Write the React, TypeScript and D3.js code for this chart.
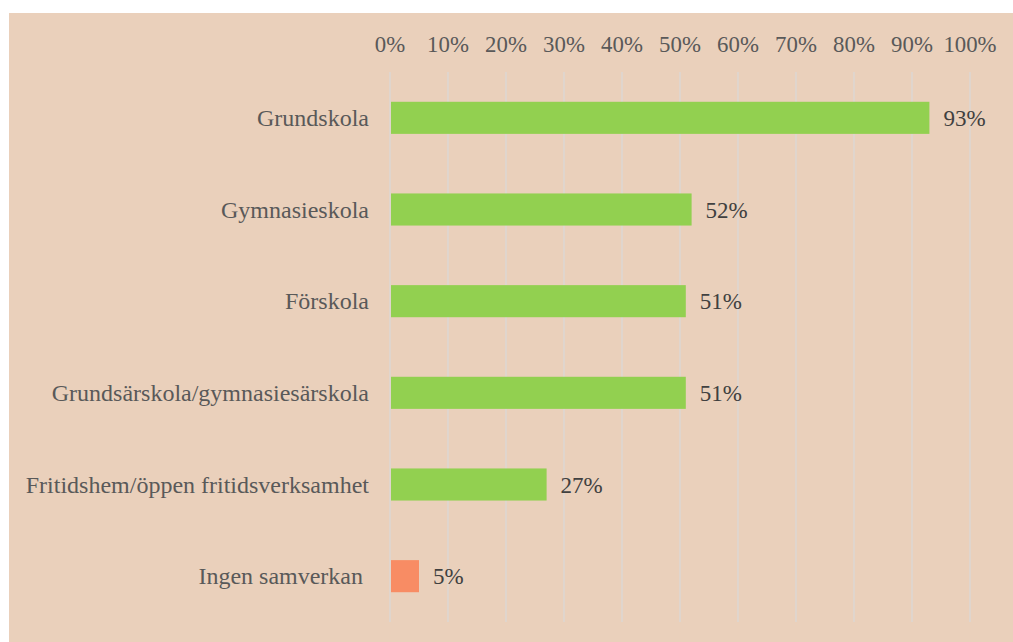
import React from "react";
import * as d3 from "d3";

const categories = [
  "Grundskola",
  "Gymnasieskola",
  "Förskola",
  "Grundsärskola/gymnasiesärskola",
  "Fritidshem/öppen fritidsverksamhet",
  "Ingen samverkan ",
];
const values = [93, 52, 51, 51, 27, 5];
const barColors = ["#92D050", "#92D050", "#92D050", "#92D050", "#92D050", "#F88C64"];
const tickValues = [0, 10, 20, 30, 40, 50, 60, 70, 80, 90, 100];

export default function App() {
  const W = 1013;
  const H = 642;
  const x = d3.scaleLinear().domain([0, 100]).range([390, 970]);
  const y = d3.scaleBand<string>().domain(categories).range([72, 622]).paddingInner(0.65).paddingOuter(0.325);
  const font = "Liberation Serif";
  return (
    <svg width={W} height={H} style={{ position: "fixed", left: 0, top: 0 }}>
      <rect x={0} y={0} width={W} height={H} fill="#ffffff" />
      <rect x={9} y={13} width={W - 9} height={H - 13} fill="#EAD0BB" />
      {tickValues.map((t) => (
        <g key={t}>
          <line x1={x(t)} x2={x(t)} y1={72} y2={622} stroke="#D9D9D9" strokeWidth={1.2} />
          <text x={x(t)} y={52} textAnchor="middle" style={{ fontFamily: font }} fontSize={22.8} fill="#595959">
            {t + "%"}
          </text>
        </g>
      ))}
      {categories.map((c, i) => {
        const by = y(c)!;
        const bh = y.bandwidth();
        return (
          <g key={c}>
            <rect x={x(0) + 1} y={by} width={x(values[i]) - x(0) - 1} height={bh} fill={barColors[i]} />
            <text
              x={369}
              y={by + bh / 2 + 8}
              textAnchor="end"
              fontSize={24}
              fill="#595959"
              style={{ whiteSpace: "pre", fontFamily: font }}
            >
              {c}
            </text>
            <text x={x(values[i]) + 14} y={by + bh / 2 + 8} style={{ fontFamily: font }} fontSize={23} fill="#404040">
              {values[i] + "%"}
            </text>
          </g>
        );
      })}
    </svg>
  );
}
